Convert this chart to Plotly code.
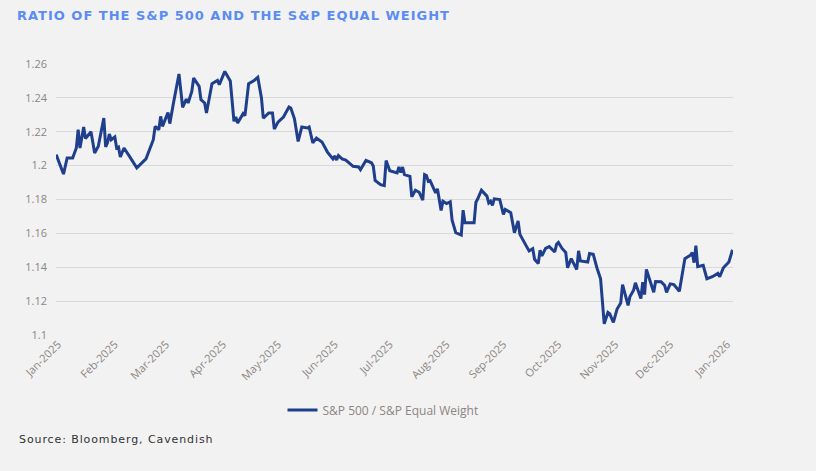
import pandas as pd
import plotly.graph_objects as go

# Days since 1 Jan 2025 and the ratio values
days_from_jan1 = [
    -1, 3, 5, 8, 10, 11, 12, 14, 15, 18, 20, 22, 25, 26, 27, 28, 29, 31, 32, 33,
    34, 36, 39, 43, 48, 50, 52, 53, 55, 56, 57, 60, 61, 63, 66, 68, 70, 71, 73, 74,
    77, 78, 80, 81, 83, 84, 87, 88, 91, 94, 96, 97, 98, 101, 102, 104, 107, 109, 111, 112,
    115, 117, 118, 120, 123, 126, 127, 129, 131, 133, 136, 137, 139, 141, 144, 146, 147, 150, 151, 152,
    153, 155, 157, 161, 164, 165, 168, 171, 172, 173, 176, 178, 179, 181, 185, 186, 187, 188, 189, 192,
    193, 195, 197, 199, 200, 201, 202, 203, 206, 207, 209, 210, 212, 214, 215, 217, 220, 221, 222, 227,
    228, 229, 231, 234, 235, 236, 237, 238, 241, 243, 244, 247, 248, 249, 251, 252, 255, 257, 259, 260,
    262, 263, 264, 266, 268, 271, 272, 273, 275, 277, 278, 280, 283, 284, 285, 289, 290, 292, 294, 296,
    298, 300, 301, 303, 305, 307, 308, 311, 312, 314, 315, 317, 318, 319, 320, 321, 323, 325, 326, 329,
    331, 332, 334, 336, 339, 342, 345, 346, 347, 348, 349, 352, 354, 357, 360, 361, 363, 366, 368,
]
ratio = [
    1.2065, 1.1950, 1.2045, 1.2045, 1.2104, 1.2212, 1.2104, 1.2228, 1.2160, 1.2200,
    1.2075, 1.2115, 1.2281, 1.2110, 1.2135, 1.2187, 1.2153, 1.2169, 1.2104, 1.2110,
    1.2051, 1.2104, 1.2055, 1.1987, 1.2040, 1.2092, 1.2153, 1.2232, 1.2212, 1.2291,
    1.2232, 1.2314, 1.2248, 1.2370, 1.2541, 1.2344, 1.2393, 1.2370, 1.2438, 1.2517,
    1.2468, 1.2389, 1.2370, 1.2311, 1.2419, 1.2484, 1.2503, 1.2478, 1.2556, 1.2500,
    1.2262, 1.2287, 1.2252, 1.2307, 1.2295, 1.2484, 1.2503, 1.2521, 1.2400, 1.2281,
    1.2311, 1.2311, 1.2216, 1.2256, 1.2287, 1.2346, 1.2340, 1.2276, 1.2143, 1.2228,
    1.2222, 1.2228, 1.2134, 1.2163, 1.2140, 1.2094, 1.2080, 1.2040, 1.2057, 1.2033,
    1.2060, 1.2040, 1.2033, 1.1996, 1.1992, 1.1976, 1.2031, 1.2017, 1.1998, 1.1913,
    1.1888, 1.1882, 1.2030, 1.1970, 1.1957, 1.1992, 1.1960, 1.1992, 1.1947, 1.1937,
    1.1816, 1.1855, 1.1843, 1.1796, 1.1947, 1.1941, 1.1908, 1.1912, 1.1839, 1.1863,
    1.1735, 1.1790, 1.1776, 1.1786, 1.1678, 1.1604, 1.1590, 1.1737, 1.1663, 1.1663,
    1.1784, 1.1804, 1.1855, 1.1820, 1.1780, 1.1790, 1.1765, 1.1804, 1.1800, 1.1712,
    1.1741, 1.1722, 1.1663, 1.1604, 1.1673, 1.1594, 1.1535, 1.1496, 1.1510, 1.1447,
    1.1422, 1.1500, 1.1467, 1.1512, 1.1522, 1.1490, 1.1535, 1.1546, 1.1511, 1.1487,
    1.1397, 1.1451, 1.1387, 1.1497, 1.1437, 1.1431, 1.1481, 1.1477, 1.1397, 1.1332,
    1.1066, 1.1133, 1.1125, 1.1074, 1.1153, 1.1189, 1.1298, 1.1175, 1.1225, 1.1264,
    1.1308, 1.1239, 1.1215, 1.1312, 1.1239, 1.1387, 1.1318, 1.1252, 1.1316, 1.1314,
    1.1292, 1.1252, 1.1302, 1.1298, 1.1258, 1.1451, 1.1471, 1.1487, 1.1427, 1.1527,
    1.1403, 1.1411, 1.1332, 1.1344, 1.1364, 1.1344, 1.1397, 1.1431, 1.1503,
]
y_ticks = [1.1, 1.12, 1.14, 1.16, 1.18, 1.2, 1.22, 1.24, 1.26]
y_tick_labels = ["1.1", "1.12", "1.14", "1.16", "1.18", "1.2", "1.22", "1.24", "1.26"]
series_name = "S&P 500 / S&P Equal Weight"
title_text = "RATIO OF THE S&P 500 AND THE S&P EQUAL WEIGHT"
source_text = "Source: Bloomberg, Cavendish"

dates = pd.Timestamp("2025-01-01") + pd.to_timedelta(days_from_jan1, unit="D")

BG = "#f2f2f2"
GRID = "#d9d9d9"
TICK = "#8c8582"

fig = go.Figure()
fig.add_trace(go.Scatter(
    x=dates, y=ratio, mode="lines", name=series_name,
    line=dict(color="#1f3f8c", width=3),
))

fig.update_layout(
    width=816, height=471,
    paper_bgcolor=BG, plot_bgcolor=BG,
    margin=dict(l=56, r=83, t=64, b=136),
    showlegend=True,
    legend=dict(
        orientation="h", x=0.483, xanchor="center", y=-0.277, yanchor="middle",
        font=dict(family="Open Sans", size=12, color=TICK),
        bgcolor="rgba(0,0,0,0)", itemwidth=30,
    ),
    title=dict(
        text="<b>" + title_text + "</b>",
        x=17 / 816, xanchor="left", xref="container",
        y=1 - 15 / 471, yanchor="middle", yref="container",
        font=dict(family="DejaVu Sans", size=13, color="#5b8cf3"),
    ),
)

fig.update_xaxes(
    type="date",
    range=["2024-12-30 21:50", "2026-01-04 06:00"],
    dtick="M1", tick0="2025-01-01", tickformat="%b-%Y", tickangle=-45,
    showgrid=False, zeroline=False, showline=False, ticks="",
    tickfont=dict(family="Open Sans", size=11, color=TICK),
)
fig.update_yaxes(
    range=[1.1, 1.26],
    tickvals=y_ticks, ticktext=y_tick_labels,
    showgrid=True, gridcolor=GRID, gridwidth=1, zeroline=False, showline=False,
    ticks="", ticklabelstandoff=8,
    tickfont=dict(family="Open Sans", size=11, color=TICK),
)

fig.add_annotation(
    text=source_text, xref="paper", yref="paper",
    x=(17 - 56) / 677, xanchor="left", y=(335 - 439) / 271, yanchor="middle",
    align="left", showarrow=False,
    font=dict(family="DejaVu Sans", size=11, color="#333333"),
)

post_js = """
document.body.style.margin = '0';
var t = document.querySelector('.gtitle');
if (t) { t.style.letterSpacing = '1px'; }
document.querySelectorAll('.annotation-text').forEach(function(a){ a.style.letterSpacing = '0.9px'; });
"""

fig.write_html("out.html", post_script=post_js, config={"displayModeBar": False})
